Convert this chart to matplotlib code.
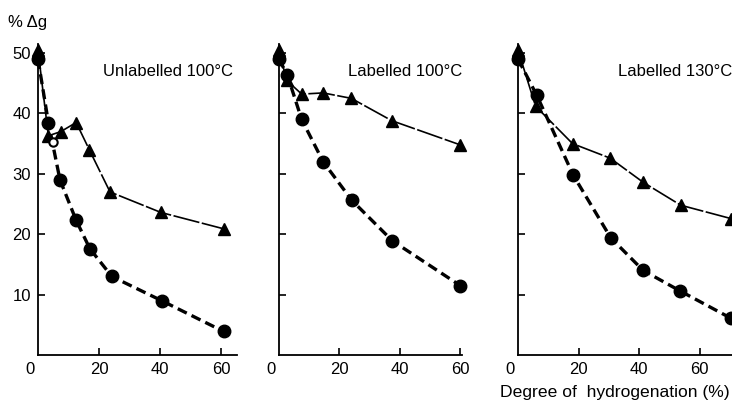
import numpy as np
import matplotlib.pyplot as plt

plt.rcParams['font.family'] = ['Liberation Sans', 'DejaVu Sans']

# Unlabelled 100 C
unl100_circ_x = [0, 3.4, 7.2, 12.5, 17.0, 24.2, 40.5, 60.8]
unl100_circ_y = [49.0, 38.5, 29.0, 22.3, 17.6, 13.0, 9.0, 3.9]
unl100_tri_x = [0, 3.4, 7.5, 12.5, 16.8, 23.6, 40.3, 60.8]
unl100_tri_y = [50.5, 36.3, 37.0, 38.5, 34.0, 27.0, 23.6, 20.9]
unl100_open_x = [5.0]
unl100_open_y = [35.3]

# Labelled 100 C
lab100_circ_x = [0, 2.8, 7.5, 14.6, 24.1, 37.5, 59.9]
lab100_circ_y = [49.0, 46.3, 39.0, 32.0, 25.6, 18.9, 11.5]
lab100_tri_x = [0, 2.5, 7.5, 14.6, 23.9, 37.3, 59.9]
lab100_tri_y = [50.5, 45.5, 43.2, 43.4, 42.5, 38.8, 34.8]

# Labelled 130 C
lab130_circ_x = [0, 6.2, 18.2, 30.6, 41.3, 53.5, 70.2]
lab130_circ_y = [49.0, 43.0, 29.8, 19.4, 14.0, 10.6, 6.1]
lab130_tri_x = [0, 5.8, 18.0, 30.4, 41.3, 53.7, 70.2]
lab130_tri_y = [50.5, 41.2, 35.0, 32.6, 28.6, 24.8, 22.6]

titles = ['Unlabelled 100°C', 'Labelled 100°C', 'Labelled 130°C']
xmax = [65.2, 60.5, 70.6]
yticks = [10, 20, 30, 40, 50]
xticks = [20, 40, 60]

W, H = 732, 405
fig = plt.figure(figsize=(W / 100, H / 100), dpi=100)

# axes boxes in pixels: left, right
boxes = [(38, 237), (279, 462), (518, 732)]
y0, ytop = 355, 44
axes = []
for (l, r) in boxes:
    ax = fig.add_axes([l / W, (H - y0) / H, (r - l) / W, (y0 - ytop) / H])
    ax.set_ylim(0, 51.5)
    for s in ['top', 'right']:
        ax.spines[s].set_visible(False)
    for s in ['left', 'bottom']:
        ax.spines[s].set_linewidth(1.3)
    ax.set_xticks(xticks)
    ax.set_yticks(yticks)
    ax.tick_params(direction='in', length=5, width=1.2, labelsize=12, pad=5)
    ax.annotate('0', xy=(0, 0), xycoords='axes fraction', xytext=(-8, -14),
                textcoords='offset pixels', ha='center', va='center', fontsize=12)
    axes.append(ax)

for ax, m in zip(axes, xmax):
    ax.set_xlim(0, m)
for ax in axes[1:]:
    ax.set_yticklabels([])

series = [
    (unl100_circ_x, unl100_circ_y, unl100_tri_x, unl100_tri_y),
    (lab100_circ_x, lab100_circ_y, lab100_tri_x, lab100_tri_y),
    (lab130_circ_x, lab130_circ_y, lab130_tri_x, lab130_tri_y),
]
for ax, (cx, cy, tx, ty) in zip(axes, series):
    ax.plot(tx, ty, color='black', lw=1.2, dashes=(16, 1.5), clip_on=False)
    ax.plot(cx, cy, color='black', lw=2.4, dashes=(3, 1.6), clip_on=False)
    ax.plot(tx, ty, ls='none', marker='^', ms=9, color='black', clip_on=False)
    ax.plot(cx, cy, ls='none', marker='o', ms=9, color='black', clip_on=False)

axes[0].plot(unl100_open_x, unl100_open_y, ls='none', marker='o', ms=6,
             mfc='white', mec='black', mew=1.5)

title_pos = [(103, 71), (348, 71), (618, 71)]
for t, (x, y) in zip(titles, title_pos):
    fig.text(x / W, 1 - y / H, t, ha='left', va='center', fontsize=12)

fig.text(8 / W, 1 - 23 / H, '% Δg', ha='left', va='center', fontsize=12)
fig.text(500 / W, 1 - 392 / H, 'Degree of  hydrogenation (%)', ha='left',
         va='center', fontsize=12.6)

fig.savefig('out.png', dpi=100)
